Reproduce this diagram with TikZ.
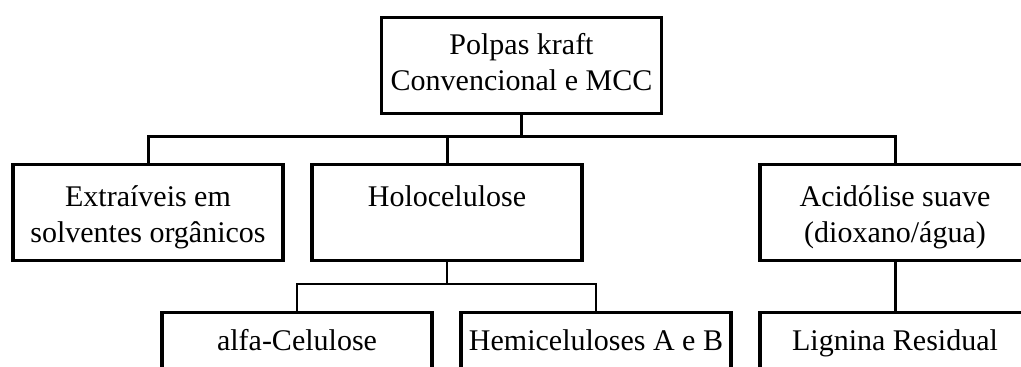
\documentclass[tikz,border=0pt]{standalone}
\usepackage{fontspec}
\setmainfont{Liberation Serif}
\usetikzlibrary{positioning}

\begin{document}
\begin{tikzpicture}[
x=1pt, y=-1pt,             % one unit is one pixel of the layout
    block/.style={
        draw=black, 
        rectangle, 
        line width=3.3pt, 
        inner sep=0pt, 
        minimum width=270pt, 
        align=center, 
        anchor=north, 
        font=\fontsize{30pt}{36pt}\selectfont
    },
    % the baseline of a two-line block is its last line
    toprow/.style={text height=73pt, text depth=23pt},
    midrow/.style={text height=42pt, text depth=54pt},
    midrowtwo/.style={text height=78pt, text depth=18pt},
    lowrow/.style={text height=38pt, text depth=58pt},
    link/.style={draw=black, line width=3pt},
    thinlink/.style={draw=black, line width=1.1pt}
]
    \clip (0,0) rectangle (1021,367);

        \node[block, toprow, minimum width=280pt] (polpas) at (521.5,16) {Polpas kraft\\Convencional e MCC};

        \node[block, midrowtwo] (extra) at (148,163) {Extraíveis em\\solventes orgânicos};
        \node[block, midrow] (holo) at (447,163) {Holocelulose};
        \node[block, midrowtwo] (acid) at (895,163) {Acidólise suave\\(dioxano/água)};

        \node[block, lowrow] (alfa) at (297,311) {alfa-Celulose};
        \node[block, lowrow] (hemi) at (596,311) {Hemiceluloses A e B};
        \node[block, lowrow] (lign) at (895,311) {Lignina Residual};

        \coordinate (bus) at (polpas.south |- 0,136);
        \coordinate (holobus) at (holo.south |- 0,284);

    \draw[link] (polpas.south) -- (bus);
    \draw[link] (bus) -| (extra.north);
    \draw[link] (bus) -| (holo.north);
    \draw[link] (bus) -| (acid.north);

    \draw[thinlink] (holo.south) -- (holobus);
    \draw[thinlink] (holobus) -| (alfa.north);
    \draw[thinlink] (holobus) -| (hemi.north);

    \draw[link] (acid.south) -- (lign.north);
\end{tikzpicture}
\end{document}
